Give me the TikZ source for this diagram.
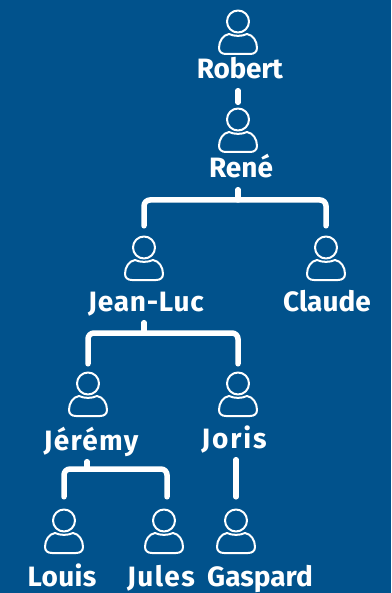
\documentclass[tikz,border=0pt]{standalone}
\usepackage{fontspec}
\setmainfont{Fira Sans}[UprightFont=* SemiBold,BoldFont=* Bold]
\definecolor{bgblue}{HTML}{01528C}
\newcommand{\lspc}[1]{\addfontfeature{LetterSpace=#1}}
\tikzset{
  x=1pt,y=-1pt,
  lbl/.style={text=white,inner sep=0pt,anchor=base,text height=17pt,text depth=9pt,font=\fontsize{28}{28}\selectfont\bfseries},
  iconbox/.style={inner sep=0pt,minimum width=40pt,minimum height=46pt},
  iconline/.style={draw=white,line width=2pt,line join=round},
  link/.style={draw=white,line width=5.5pt,line cap=round,rounded corners=6pt},
}
\newcommand{\persona}[3]{%
  \node[iconbox] (#1) at (#2,#3) {};
  \begin{scope}[shift={(#2,#3)}]
  \path[iconline] (0,-12.5) circle[radius=11pt];
  \path[iconline] (-9,0)
     .. controls (-15,1) and (-19,7) .. (-19,14)
     .. controls (-19,18) and (-16,20) .. (-12,20)
     -- (12,20)
     .. controls (16,20) and (19,18) .. (19,14)
     .. controls (19,7) and (15,1) .. (9,0)
     .. controls (4,2.5) and (-4,2.5) .. cycle;
  \end{scope}
}
\begin{document}
\begin{tikzpicture}
\useasboundingbox (0,0) rectangle (391,593);
\fill[bgblue] (0,0) rectangle (391,593);
\persona{iRobert}{238}{34}
\persona{iRene}{238}{132}
\persona{iJeanLuc}{144}{260}
\persona{iClaude}{326}{260}
\persona{iJeremy}{88}{396}
\persona{iJoris}{238}{396}
\persona{iLouis}{64}{533}
\persona{iJules}{164}{533}
\persona{iGaspard}{236}{533}
\node[lbl] (robert) at (240,79) {\lspc{-1}Robert};
\node[lbl] (rene) at (241,178) {René};
\node[lbl] (jeanluc) at (146,311) {\lspc{2.7}Jean-Luc};
\node[lbl] (claude) at (327,311) {Claude};
\node[lbl] (jeremy) at (91,450) {\lspc{4.7}Jérémy};
\node[lbl] (joris) at (234,448) {\lspc{6.4}Joris};
\node[lbl] (louis) at (62,586) {\lspc{1}Louis};
\node[lbl] (jules) at (161,586) {\lspc{5}Jules};
\node[lbl] (gaspard) at (260,586) {Gaspard};
\coordinate (jA) at (238,200);
\coordinate (jB) at (144,333);
\coordinate (jC) at (87,469);
\draw[link,shorten >=6.5pt,shorten <=2.5pt] (robert.south -| iRobert.north) -- (iRene.north);
\draw[link,shorten <=11pt,shorten >=11pt] (iJeanLuc.north) |- (jA) -| (iClaude.north);
\draw[link,shorten <=2.5pt] (rene.south -| jA) -- (jA);
\draw[link,shorten <=9pt,shorten >=9pt] (iJeremy.north) |- (jB) -| (iJoris.north);
\draw[link,shorten <=2.5pt] (jeanluc.south -| jB) -- (jB);
\draw[link,shorten <=13pt,shorten >=13pt] (iLouis.north) |- (jC) -| ([xshift=3pt]iJules.north);
\draw[link,shorten <=2.5pt] (jeremy.south -| jC) -- (jC);
\draw[link,shorten >=13pt,shorten <=2.5pt] (joris.south -| iGaspard.north) -- (iGaspard.north);
\end{tikzpicture}
\end{document}
